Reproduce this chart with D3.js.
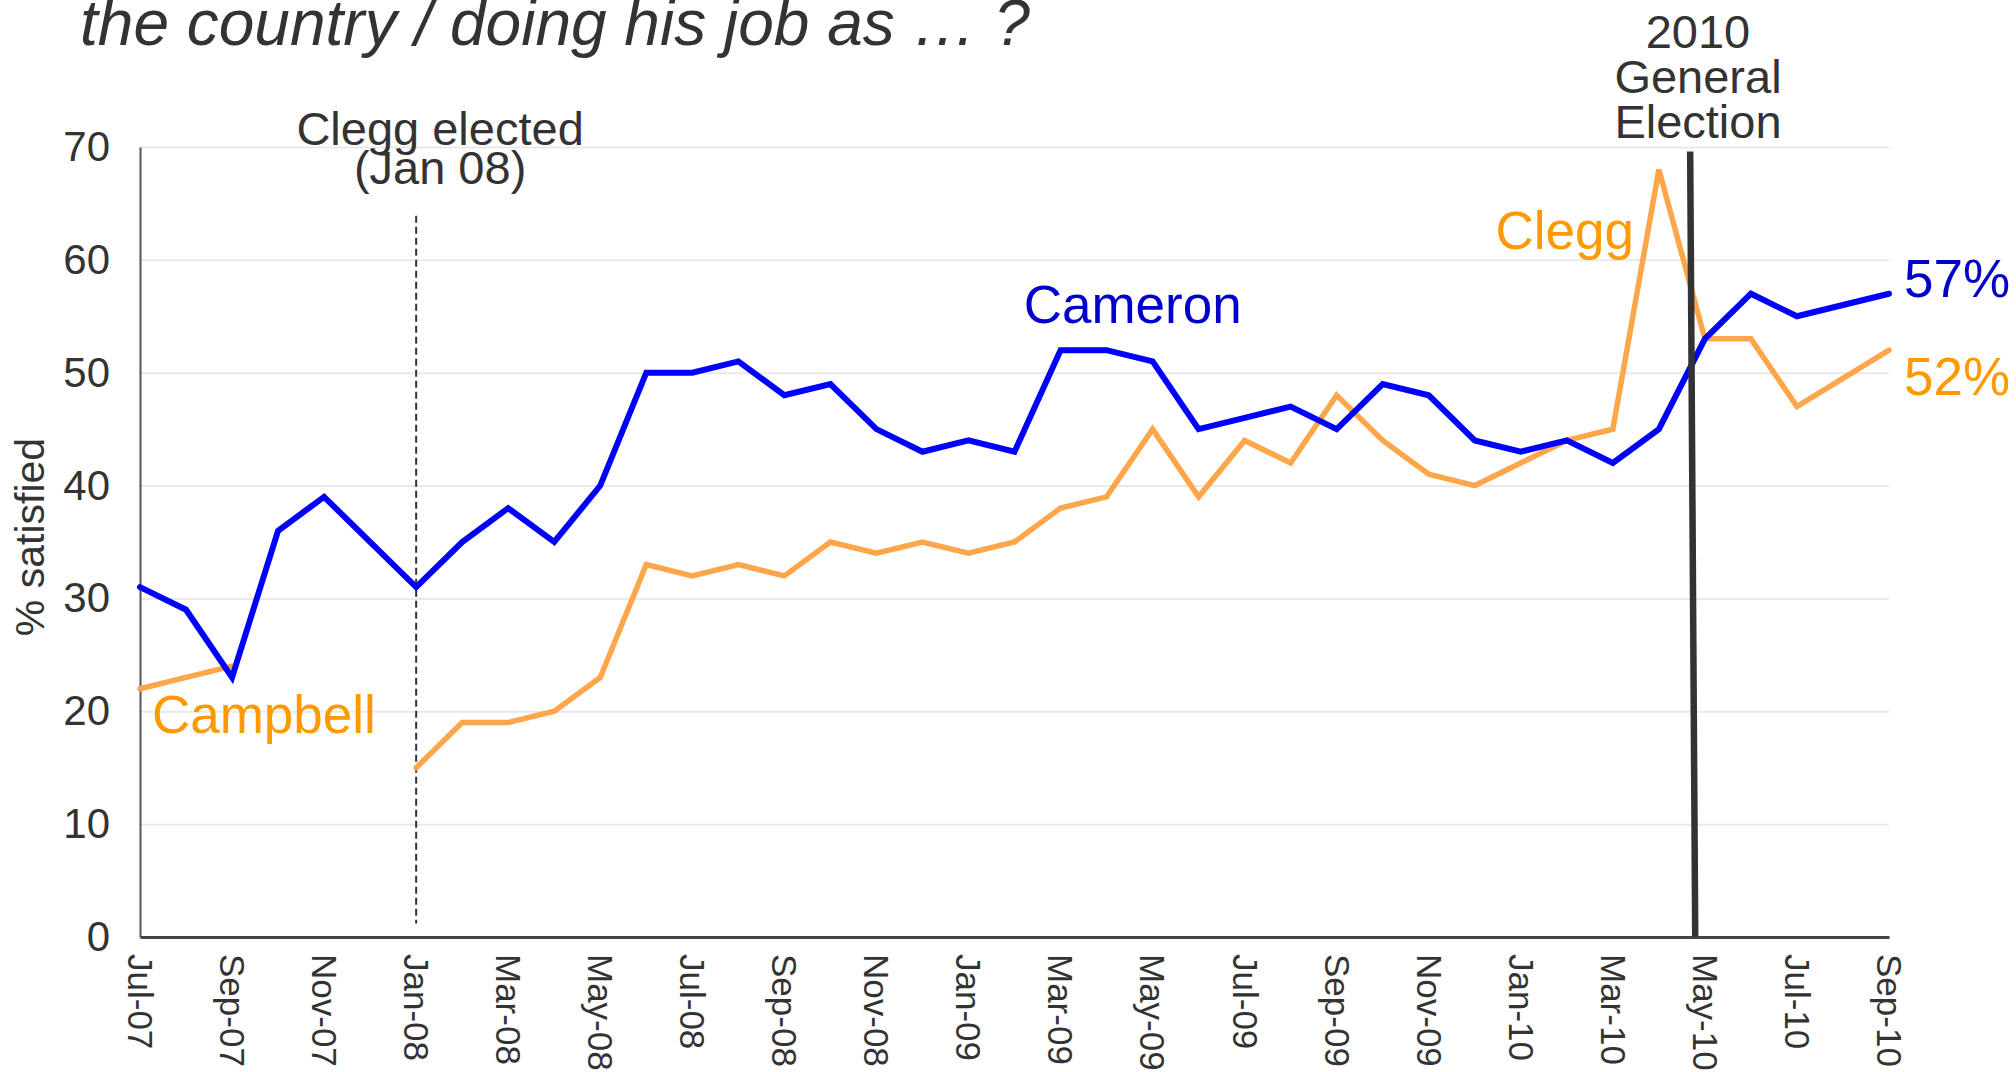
<!DOCTYPE html>
<html>
<head>
<meta charset="utf-8">
<script src="https://cdn.jsdelivr.net/npm/d3@7"></script>
<style>
  body { margin: 0; background: #fff; }
  text { font-family: "Liberation Sans", Arial, Helvetica, sans-serif; }
</style>
</head>
<body>
<div id="chart"></div>
<script>
// month categories, Jul-07 .. Sep-10
const months = ["Jul-07","Aug-07","Sep-07","Oct-07","Nov-07","Dec-07","Jan-08","Feb-08","Mar-08","Apr-08",
  "May-08","Jun-08","Jul-08","Aug-08","Sep-08","Oct-08","Nov-08","Dec-08","Jan-09","Feb-09",
  "Mar-09","Apr-09","May-09","Jun-09","Jul-09","Aug-09","Sep-09","Oct-09","Nov-09","Dec-09",
  "Jan-10","Feb-10","Mar-10","Apr-10","May-10","Jun-10","Jul-10","Aug-10","Sep-10"];

// % satisfied (null = no reading)
const cameron = [31,29,23,36,39,null,31,35,38,35,40,50,50,51,48,49,45,43,44,43,
  52,52,51,45,46,47,45,49,48,44,43,44,42,45,53,57,55,null,57];
const campbell = [22,23,24,null,null,null,null,null,null,null,null,null,null,null,null,null,null,null,null,null,
  null,null,null,null,null,null,null,null,null,null,null,null,null,null,null,null,null,null,null];
const clegg = [null,null,null,null,null,null,15,19,19,20,23,33,32,33,32,35,34,35,34,35,
  38,39,45,39,44,42,48,44,41,40,42,44,45,68,53,53,47,null,52];

const yTicks = [0,10,20,30,40,50,60,70];
const xTickIdx = d3.range(0, months.length, 2);

const W = 2016, H = 1072;
const margin = { top: 147, right: 127, bottom: 135, left: 140 },
  width = W - margin.left - margin.right,
  height = H - margin.top - margin.bottom;

const x = d3.scaleLinear().domain([0, months.length - 1]).range([0, width]);
const y = d3.scaleLinear().domain([0, 70]).range([height, 0]);

const svg = d3.select("#chart").append("svg")
  .attr("width", W).attr("height", H);

// title (second line of it, the first is cut off)
svg.append("text")
  .attr("x", 80).attr("y", 45)
  .attr("font-size", 64).attr("font-style", "italic").attr("fill", "#333")
  .text("the country / doing his job as \u2026 ?");

const g = svg.append("g")
  .attr("transform", "translate(" + margin.left + "," + margin.top + ")");

// gridlines
g.append("g")
  .call(d3.axisLeft(y).tickValues(yTicks.slice(1)).tickSize(-width).tickFormat(""))
  .call(a => a.select(".domain").remove())
  .call(a => a.selectAll("line").attr("stroke", "#e9e9e9").attr("stroke-width", 2));

// y axis
g.append("g")
  .call(d3.axisLeft(y).tickValues(yTicks).tickSize(0).tickPadding(30))
  .call(a => a.select(".domain").attr("stroke", "#555").attr("stroke-width", 2))
  .call(a => a.selectAll("text")
    .attr("font-size", 42).attr("fill", "#333")
    .style("font-family", "'Liberation Sans', Arial, sans-serif"));

svg.append("text")
  .attr("transform", "translate(" + 44 + "," + 537 + ") rotate(-90)")
  .attr("text-anchor", "middle")
  .attr("font-size", 41).attr("fill", "#333")
  .text("% satisfied");

// x axis
g.append("g")
  .attr("transform", "translate(0," + height + ")")
  .call(d3.axisBottom(x).tickValues(xTickIdx).tickSize(0).tickFormat(i => months[i]))
  .call(a => a.select(".domain").attr("stroke", "#444").attr("stroke-width", 3))
  .call(a => a.selectAll("text")
    .attr("font-size", 35).attr("fill", "#333")
    .style("font-family", "'Liberation Sans', Arial, sans-serif")
    .attr("text-anchor", "start")
    .attr("x", 0).attr("y", 0).attr("dy", "0.36em")
    .attr("transform", "translate(0,17) rotate(90)"));

// Jan 08 marker
g.append("line")
  .attr("x1", x(6)).attr("x2", x(6))
  .attr("y1", y(63.9)).attr("y2", y(1.2))
  .attr("stroke", "#333").attr("stroke-width", 2)
  .attr("stroke-dasharray", "7,4");

const note = g.append("text")
  .attr("text-anchor", "middle").attr("font-size", 47).attr("fill", "#333");
note.append("tspan").attr("x", x(6.52)).attr("y", y(70) - 2).text("Clegg elected");
note.append("tspan").attr("x", x(6.52)).attr("y", y(70) + 37).text("(Jan 08)");

// lines
const line = d3.line()
  .x(d => x(d.i))
  .y(d => y(d.v));

function pts(arr) {
  return arr.map((v, i) => ({ i: i, v: v })).filter(d => d.v !== null);
}

g.append("path")
  .datum(pts(campbell))
  .attr("d", line)
  .attr("fill", "none").attr("stroke", "#FFA54A").attr("stroke-width", 5.5)
  .attr("stroke-linecap", "round");

g.append("path")
  .datum(pts(clegg))
  .attr("d", line)
  .attr("fill", "none").attr("stroke", "#FFA54A").attr("stroke-width", 5.5)
  .attr("stroke-linecap", "round");

g.append("path")
  .datum(pts(cameron))
  .attr("d", line)
  .attr("fill", "none").attr("stroke", "#0000FF").attr("stroke-width", 6)
  .attr("stroke-linecap", "round");

// election marker
g.append("line")
  .attr("x1", x(33.68)).attr("x2", x(33.79))
  .attr("y1", y(69.6)).attr("y2", y(0))
  .attr("stroke", "#333").attr("stroke-width", 6.5);

const el = g.append("text")
  .attr("text-anchor", "middle").attr("font-size", 47).attr("fill", "#333");
["2010", "General", "Election"].forEach((t, k) => {
  el.append("tspan").attr("x", x(33.85)).attr("y", y(70) - 99 + k * 45).text(t);
});

// series labels
g.append("text").attr("x", x(19.2)).attr("y", y(54.4))
  .attr("font-size", 53).attr("fill", "#0000CC").text("Cameron");
g.append("text").attr("x", x(0.26)).attr("y", y(18.1))
  .attr("font-size", 53).attr("fill", "#FF9900").text("Campbell");
g.append("text").attr("x", x(32.46)).attr("y", y(61)).attr("text-anchor", "end")
  .attr("font-size", 53).attr("fill", "#FF9900").text("Clegg");
g.append("text").attr("x", x(38) + 15).attr("y", y(56.7))
  .attr("font-size", 53).attr("fill", "#0000CC").text(cameron[38] + "%");
g.append("text").attr("x", x(38) + 15).attr("y", y(48))
  .attr("font-size", 53).attr("fill", "#FF9900").text(clegg[38] + "%");
</script>
</body>
</html>
